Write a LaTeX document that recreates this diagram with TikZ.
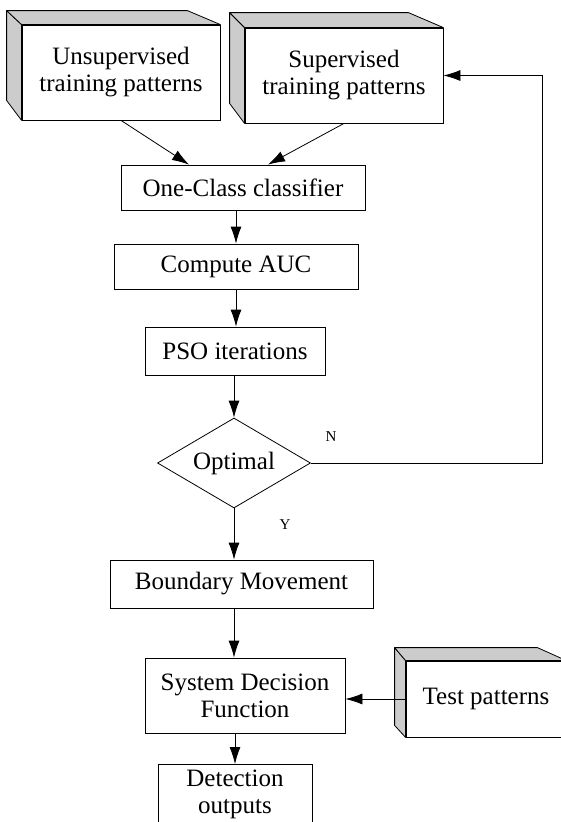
\documentclass[tikz,border=0pt]{standalone}
\usepackage{fontspec}
\setmainfont{Liberation Serif}
\usetikzlibrary{shapes.geometric, arrows.meta, calc}

\tikzset{
	procbox/.style={draw, line width=0.8pt, align=center, inner sep=0pt, fill=white,
		font=\fontsize{25}{27}\selectfont},
	decision/.style={procbox, diamond, aspect=1.7},
	sideface/.style={draw, line width=0.8pt, fill=black!20, line join=round},
	flowarrow/.style={line width=0.8pt, -{Latex[length=17pt,width=11pt]}},
	smalllabel/.style={inner sep=0pt, font=\fontsize{15}{17}\selectfont}
}

\begin{document}
\begin{tikzpicture}[x=1pt, y=-1pt]
	\useasboundingbox (0,0) rectangle (561,822);
	\clip (0,0) rectangle (561,822);
	\fill[white] (0,0) rectangle (561,822);

	\draw (121,72.5) node[procbox, minimum width=198pt, minimum height=95pt] (unsup) {Unsupervised\\training patterns}
		(344,75.5) node[procbox, minimum width=198pt, minimum height=95pt] (sup) {Supervised\\training patterns}
		(243,187.5) node[procbox, minimum width=244pt, minimum height=45pt] (occ) {One-Class classifier}
		(236,266.5) node[procbox, minimum width=244pt, minimum height=45pt] (cauc) {Compute AUC}
		(235,351) node[procbox, minimum width=180pt, minimum height=48pt] (pso) {PSO iterations}
		(234,463) node[decision, minimum width=153pt, minimum height=90pt] (opt) {Optimal}
		(241.5,584) node[procbox, minimum width=263pt, minimum height=48pt] (bnd) {Boundary Movement}
		(245,695.5) node[procbox, minimum width=200pt, minimum height=75pt] (sdf) {System Decision\\Function}
		(486,699) node[procbox, minimum width=160pt, minimum height=76pt] (test) {Test patterns}
		(235,764) node[procbox, anchor=north, minimum width=154pt, inner ysep=6pt] (det) {Detection\\outputs};

	% shaded sides of the 3D boxes
	\foreach \n/\dx/\dy/\dyb/\rx in {unsup/15/14/20/33, sup/15/15/20/35, test/11/13/12/29} {
		\filldraw[sideface] (\n.north west) -- ++(-\dx,-\dy) -- ($(\n.south west)+(-\dx,-\dyb)$) -- (\n.south west) -- cycle;
		\filldraw[sideface] (\n.north west) -- ++(-\dx,-\dy) -- ($(\n.north east)+(-\rx,-\dy)$) -- (\n.north east) -- cycle;
	}

	\coordinate (loop) at (542,463);
	\node[smalllabel] (nlab) at (331,437) {N};
	\node[smalllabel] (ylab) at (285,525) {Y};

	\draw[flowarrow] (unsup.south) -- ([xshift=-54pt]occ.north);
	\draw[flowarrow] (sup.south) -- ([xshift=25pt]occ.north);
	\draw[flowarrow] (occ.south -| cauc.north) -- (cauc.north);
	\draw[flowarrow] (cauc.south) -- (cauc.south |- pso.north);
	\draw[flowarrow] (pso.south -| opt.north) -- (opt.north);
	\draw[flowarrow] (opt.south) -- (opt.south |- bnd.north);
	\draw[flowarrow] (bnd.south -| opt.south) -- (sdf.north -| opt.south);
	\draw[flowarrow] (test.west) -- (test.west -| sdf.east);
	\draw[flowarrow] (sdf.south -| det.north) -- (det.north);
	\draw[flowarrow] (opt.east) -- (loop) |- (sup.east);
\end{tikzpicture}
\end{document}
